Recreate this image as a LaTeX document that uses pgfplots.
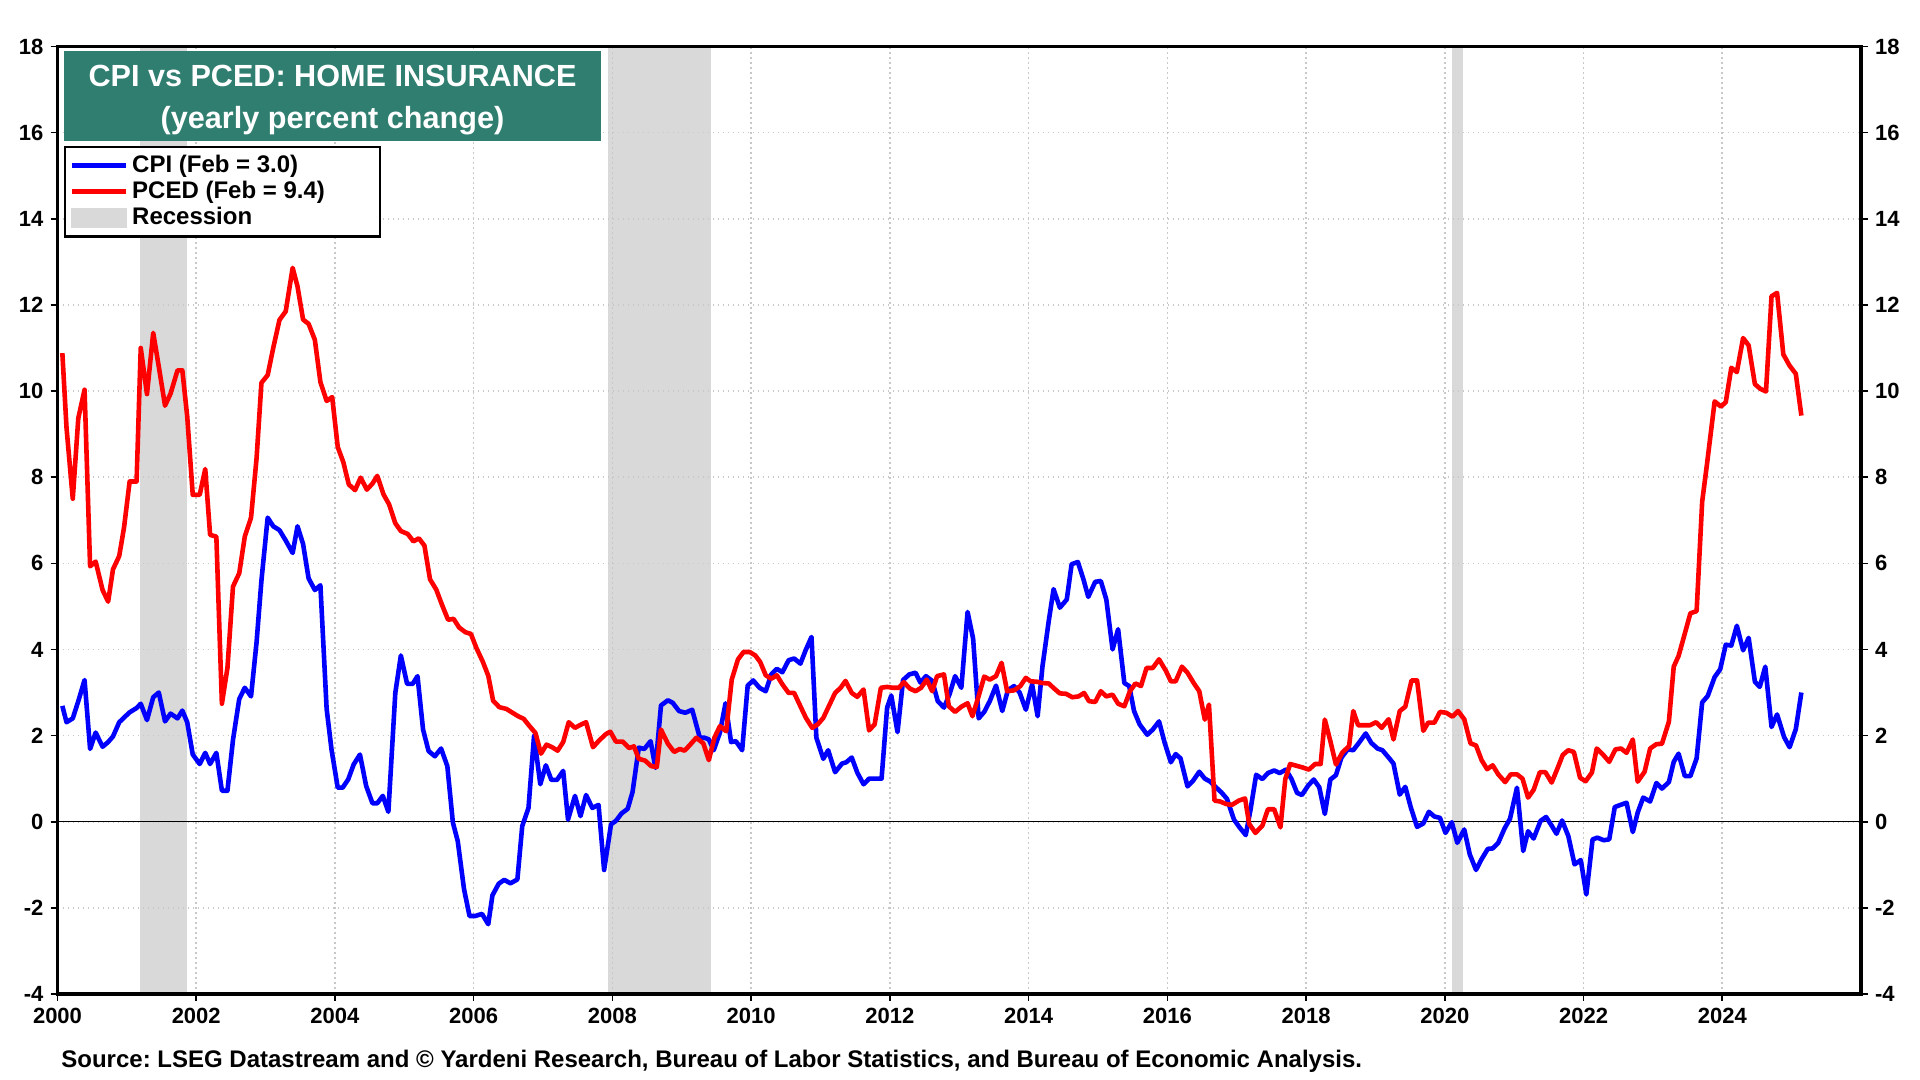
\documentclass[border=0pt]{standalone}
\usepackage{fontspec}
\setmainfont{Liberation Sans}
\usepackage{pgfplots}
\pgfplotsset{compat=1.18}
\definecolor{recgray}{RGB}{217,217,217}
\definecolor{titlegreen}{RGB}{47,126,112}
\definecolor{gridgray}{RGB}{200,200,200}
\frenchspacing
\begin{document}
\begin{tikzpicture}
\useasboundingbox (0,0) rectangle (960pt,540pt);
\pgfplotsset{
  common/.style={at={(28.75pt,43pt)}, anchor=south west, scale only axis,
    width=901.75pt, height=473.75pt, xmin=2000, xmax=2026, ymin=-4, ymax=18}
}
% recession bars
\begin{axis}[common, hide axis]
\addplot[fill=recgray, draw=none] coordinates {(2001.19,-4) (2001.19,18) (2001.86,18) (2001.86,-4)} -- cycle;
\addplot[fill=recgray, draw=none] coordinates {(2007.93,-4) (2007.93,18) (2009.42,18) (2009.42,-4)} -- cycle;
\addplot[fill=recgray, draw=none] coordinates {(2020.10,-4) (2020.10,18) (2020.26,18) (2020.26,-4)} -- cycle;
\end{axis}
% main axis
\begin{axis}[common,
  xtick={2000,2002,...,2024}, ytick={-4,-2,...,18},
  xtick pos=bottom, ytick pos=left,
  grid=major, grid style={gridgray, line width=0.8pt, dash pattern=on 0.8pt off 1.7pt},
  tick align=outside, major tick length=3.5pt,
  tick style={black, line width=0.8pt},
  axis line style={line width=1.6pt},
  /pgf/number format/assume math mode=true,
  /pgf/number format/1000 sep={},
  ticklabel style={font=\fontsize{11}{13}\selectfont\bfseries},
  legend cell align=left,
  legend style={at={(rel axis cs:0,1)}, anchor=north west, xshift=3.25pt, yshift=-49.75pt,
    draw=black, line width=1.2pt, font=\fontsize{12}{13.8}\selectfont\bfseries,
    inner xsep=2pt, inner ysep=2.2pt, row sep=-1.2pt},
]
\addplot[black, line width=0.5pt, forget plot] coordinates {(2000,0) (2026,0)};
\addplot[blue, line width=2.3pt, line join=round,
  legend image code/.code={\draw[blue, line width=2.5pt] (0pt,0pt) -- (27pt,0pt);}]
coordinates {
(2000.07,2.69) (2000.13,2.31) (2000.22,2.4) (2000.30,2.8) (2000.39,3.29) (2000.47,1.69)
(2000.55,2.07) (2000.65,1.74) (2000.73,1.85) (2000.80,1.98) (2000.89,2.31) (2000.96,2.42)
(2001.04,2.54) (2001.14,2.64) (2001.20,2.74) (2001.29,2.36) (2001.38,2.89) (2001.46,3.0)
(2001.55,2.33) (2001.63,2.51) (2001.73,2.4) (2001.80,2.58) (2001.87,2.31) (2001.95,1.56)
(2002.05,1.34) (2002.13,1.6) (2002.20,1.34) (2002.29,1.6) (2002.37,0.72) (2002.45,0.72)
(2002.53,1.9) (2002.62,2.85) (2002.70,3.11) (2002.79,2.91) (2002.87,4.17) (2002.94,5.6)
(2003.03,7.06) (2003.11,6.86) (2003.20,6.77) (2003.29,6.53) (2003.39,6.24) (2003.46,6.86)
(2003.54,6.45) (2003.62,5.65) (2003.71,5.38) (2003.79,5.49) (2003.88,2.62) (2003.95,1.68)
(2004.04,0.79) (2004.11,0.79) (2004.19,0.98) (2004.27,1.33) (2004.36,1.56) (2004.45,0.83)
(2004.54,0.43) (2004.61,0.43) (2004.69,0.6) (2004.77,0.23) (2004.87,2.99) (2004.95,3.86)
(2005.04,3.2) (2005.12,3.2) (2005.19,3.38) (2005.27,2.14) (2005.35,1.64) (2005.44,1.52)
(2005.53,1.7) (2005.62,1.29) (2005.70,-0.02) (2005.77,-0.45) (2005.86,-1.56) (2005.94,-2.19)
(2006.02,-2.19) (2006.12,-2.14) (2006.21,-2.38) (2006.27,-1.71) (2006.36,-1.44) (2006.44,-1.35)
(2006.53,-1.43) (2006.63,-1.34) (2006.70,-0.1) (2006.79,0.32) (2006.87,1.99) (2006.96,0.87)
(2007.04,1.31) (2007.12,0.97) (2007.20,0.97) (2007.29,1.18) (2007.36,0.05) (2007.46,0.6)
(2007.54,0.13) (2007.62,0.62) (2007.71,0.32) (2007.80,0.39) (2007.88,-1.12) (2007.98,-0.06)
(2008.05,0.02) (2008.13,0.19) (2008.22,0.3) (2008.29,0.69) (2008.38,1.72) (2008.46,1.69)
(2008.55,1.87) (2008.62,1.25) (2008.70,2.7) (2008.80,2.82) (2008.87,2.76) (2008.96,2.57)
(2009.05,2.53) (2009.15,2.6) (2009.26,1.95) (2009.33,1.95) (2009.39,1.91) (2009.46,1.66)
(2009.55,2.07) (2009.63,2.75) (2009.71,1.85) (2009.78,1.87) (2009.87,1.66) (2009.95,3.16)
(2010.03,3.28) (2010.12,3.11) (2010.21,3.03) (2010.29,3.42) (2010.37,3.55) (2010.45,3.47)
(2010.54,3.75) (2010.62,3.79) (2010.71,3.67) (2010.79,4.0) (2010.87,4.29) (2010.94,1.95)
(2011.04,1.46) (2011.11,1.66) (2011.21,1.15) (2011.31,1.35) (2011.37,1.38) (2011.45,1.49)
(2011.53,1.14) (2011.62,0.87) (2011.70,1.0) (2011.78,1.0) (2011.88,1.0) (2011.96,2.65)
(2012.02,2.93) (2012.11,2.08) (2012.19,3.29) (2012.28,3.42) (2012.37,3.46) (2012.44,3.23)
(2012.52,3.38) (2012.61,3.27) (2012.69,2.8) (2012.78,2.65) (2012.86,2.96) (2012.94,3.38)
(2013.03,3.11) (2013.12,4.87) (2013.20,4.25) (2013.28,2.4) (2013.36,2.55) (2013.44,2.8)
(2013.53,3.16) (2013.62,2.57) (2013.70,3.05) (2013.79,3.15) (2013.87,3.0) (2013.96,2.6)
(2014.05,3.19) (2014.13,2.45) (2014.20,3.61) (2014.29,4.66) (2014.36,5.4) (2014.45,4.97)
(2014.55,5.16) (2014.62,5.98) (2014.71,6.03) (2014.79,5.63) (2014.86,5.22) (2014.96,5.57)
(2015.04,5.59) (2015.12,5.16) (2015.21,4.0) (2015.29,4.47) (2015.38,3.22) (2015.45,3.15)
(2015.52,2.57) (2015.60,2.26) (2015.71,2.02) (2015.79,2.14) (2015.88,2.33) (2015.96,1.84)
(2016.05,1.38) (2016.12,1.57) (2016.19,1.47) (2016.29,0.82) (2016.37,0.95) (2016.46,1.16)
(2016.54,1.0) (2016.62,0.93) (2016.70,0.8) (2016.78,0.68) (2016.86,0.53) (2016.96,0.05)
(2017.04,-0.13) (2017.13,-0.31) (2017.20,0.29) (2017.28,1.09) (2017.37,0.99) (2017.45,1.13)
(2017.54,1.19) (2017.62,1.13) (2017.71,1.21) (2017.79,0.99) (2017.87,0.67) (2017.94,0.62)
(2018.03,0.84) (2018.11,0.98) (2018.19,0.8) (2018.27,0.18) (2018.35,0.98) (2018.43,1.08)
(2018.51,1.49) (2018.60,1.68) (2018.68,1.66) (2018.77,1.85) (2018.86,2.05) (2018.94,1.83)
(2019.03,1.7) (2019.10,1.66) (2019.19,1.49) (2019.26,1.35) (2019.35,0.63) (2019.43,0.81)
(2019.51,0.33) (2019.60,-0.12) (2019.69,-0.04) (2019.77,0.23) (2019.85,0.12) (2019.93,0.09)
(2020.01,-0.26) (2020.10,-0.01) (2020.18,-0.49) (2020.28,-0.18) (2020.36,-0.76) (2020.45,-1.12)
(2020.53,-0.87) (2020.62,-0.63) (2020.69,-0.62) (2020.77,-0.49) (2020.86,-0.16) (2020.94,0.07)
(2021.04,0.79) (2021.13,-0.68) (2021.20,-0.22) (2021.28,-0.39) (2021.38,0.02) (2021.46,0.11)
(2021.54,-0.09) (2021.61,-0.28) (2021.69,0.03) (2021.78,-0.33) (2021.87,-0.99) (2021.96,-0.89)
(2022.04,-1.69) (2022.13,-0.41) (2022.20,-0.37) (2022.29,-0.43) (2022.37,-0.41) (2022.45,0.34)
(2022.53,0.39) (2022.62,0.44) (2022.71,-0.24) (2022.78,0.21) (2022.86,0.56) (2022.96,0.47)
(2023.05,0.9) (2023.13,0.77) (2023.23,0.92) (2023.30,1.39) (2023.37,1.58) (2023.46,1.06)
(2023.54,1.06) (2023.63,1.47) (2023.71,2.77) (2023.79,2.92) (2023.89,3.36) (2023.97,3.54)
(2024.05,4.11) (2024.13,4.09) (2024.21,4.55) (2024.30,3.98) (2024.38,4.27) (2024.47,3.25)
(2024.54,3.13) (2024.62,3.6) (2024.71,2.2) (2024.79,2.49) (2024.89,1.97) (2024.97,1.73)
(2025.06,2.15) (2025.14,3.0)
};
\addlegendentry{\makebox[120pt][l]{CPI (Feb = 3.0)}}
\addplot[red, line width=2.3pt, line join=round,
  legend image code/.code={\draw[red, line width=2.5pt] (0pt,0pt) -- (27pt,0pt);}]
coordinates {
(2000.07,10.88) (2000.13,9.15) (2000.22,7.5) (2000.30,9.37) (2000.39,10.03) (2000.47,5.93)
(2000.55,6.04) (2000.65,5.38) (2000.73,5.11) (2000.80,5.86) (2000.89,6.17) (2000.96,6.84)
(2001.04,7.9) (2001.14,7.9) (2001.20,11.0) (2001.29,9.93) (2001.38,11.35) (2001.46,10.57)
(2001.55,9.66) (2001.63,9.94) (2001.73,10.48) (2001.80,10.48) (2001.87,9.41) (2001.95,7.59)
(2002.05,7.59) (2002.13,8.19) (2002.20,6.66) (2002.29,6.62) (2002.37,2.74) (2002.45,3.57)
(2002.53,5.46) (2002.62,5.77) (2002.70,6.62) (2002.79,7.06) (2002.87,8.44) (2002.94,10.19)
(2003.03,10.37) (2003.11,11.0) (2003.20,11.65) (2003.29,11.85) (2003.39,12.86) (2003.46,12.43)
(2003.54,11.66) (2003.62,11.56) (2003.71,11.19) (2003.79,10.21) (2003.88,9.77) (2003.96,9.86)
(2004.04,8.7) (2004.12,8.35) (2004.20,7.83) (2004.29,7.7) (2004.37,7.99) (2004.46,7.71)
(2004.54,7.85) (2004.61,8.03) (2004.70,7.6) (2004.78,7.37) (2004.87,6.93) (2004.95,6.75)
(2005.05,6.68) (2005.13,6.51) (2005.21,6.58) (2005.29,6.41) (2005.37,5.63) (2005.46,5.39)
(2005.54,5.05) (2005.63,4.69) (2005.71,4.71) (2005.79,4.51) (2005.88,4.4) (2005.96,4.36)
(2006.04,4.03) (2006.13,3.72) (2006.21,3.39) (2006.28,2.81) (2006.37,2.66) (2006.47,2.62)
(2006.55,2.54) (2006.64,2.45) (2006.72,2.39) (2006.80,2.23) (2006.89,2.06) (2006.97,1.58)
(2007.05,1.79) (2007.13,1.73) (2007.21,1.65) (2007.29,1.85) (2007.37,2.31) (2007.46,2.18)
(2007.54,2.25) (2007.62,2.31) (2007.72,1.73) (2007.81,1.89) (2007.91,2.04) (2007.97,2.09)
(2008.05,1.86) (2008.15,1.86) (2008.24,1.71) (2008.31,1.75) (2008.38,1.46) (2008.47,1.42)
(2008.56,1.29) (2008.64,1.27) (2008.70,2.14) (2008.80,1.81) (2008.89,1.62) (2008.97,1.69)
(2009.04,1.65) (2009.11,1.77) (2009.21,1.95) (2009.31,1.82) (2009.39,1.43) (2009.47,1.95)
(2009.55,2.22) (2009.64,2.1) (2009.72,3.3) (2009.81,3.77) (2009.89,3.94) (2009.98,3.94)
(2010.06,3.86) (2010.13,3.71) (2010.21,3.4) (2010.29,3.32) (2010.37,3.4) (2010.45,3.19)
(2010.54,2.99) (2010.62,2.99) (2010.71,2.68) (2010.79,2.41) (2010.88,2.18) (2010.96,2.26)
(2011.04,2.41) (2011.11,2.65) (2011.21,2.99) (2011.29,3.11) (2011.36,3.27) (2011.45,2.99)
(2011.53,2.9) (2011.62,3.07) (2011.70,2.12) (2011.78,2.26) (2011.87,3.11) (2011.96,3.13)
(2012.04,3.11) (2012.13,3.11) (2012.20,3.24) (2012.29,3.09) (2012.37,3.03) (2012.45,3.11)
(2012.53,3.3) (2012.61,3.03) (2012.68,3.38) (2012.78,3.42) (2012.85,2.68) (2012.94,2.55)
(2013.03,2.67) (2013.12,2.75) (2013.19,2.45) (2013.28,2.92) (2013.36,3.37) (2013.44,3.3)
(2013.53,3.38) (2013.61,3.69) (2013.69,3.03) (2013.79,3.05) (2013.88,3.15) (2013.96,3.34)
(2014.03,3.26) (2014.12,3.25) (2014.20,3.22) (2014.29,3.21) (2014.37,3.09) (2014.45,2.98)
(2014.54,2.97) (2014.63,2.89) (2014.72,2.91) (2014.80,2.99) (2014.87,2.8) (2014.96,2.78)
(2015.04,3.03) (2015.12,2.91) (2015.21,2.95) (2015.29,2.74) (2015.38,2.68) (2015.46,3.03)
(2015.54,3.21) (2015.62,3.15) (2015.70,3.57) (2015.79,3.57) (2015.88,3.77) (2015.98,3.5)
(2016.05,3.26) (2016.12,3.26) (2016.21,3.6) (2016.29,3.46) (2016.38,3.22) (2016.46,3.03)
(2016.54,2.37) (2016.60,2.72) (2016.68,0.49) (2016.76,0.47) (2016.85,0.41) (2016.93,0.39)
(2017.03,0.49) (2017.12,0.54) (2017.18,-0.05) (2017.27,-0.26) (2017.37,-0.09) (2017.45,0.29)
(2017.54,0.29) (2017.63,-0.13) (2017.70,0.99) (2017.77,1.34) (2017.86,1.3) (2017.95,1.26)
(2018.04,1.21) (2018.13,1.34) (2018.21,1.34) (2018.27,2.37) (2018.35,1.87) (2018.43,1.33)
(2018.52,1.6) (2018.62,1.76) (2018.68,2.57) (2018.75,2.24) (2018.84,2.24) (2018.92,2.24)
(2019.01,2.31) (2019.09,2.18) (2019.19,2.38) (2019.26,1.91) (2019.35,2.57) (2019.43,2.67)
(2019.52,3.28) (2019.60,3.28) (2019.69,2.11) (2019.76,2.3) (2019.85,2.3) (2019.93,2.55)
(2020.02,2.53) (2020.11,2.44) (2020.19,2.57) (2020.28,2.38) (2020.37,1.82) (2020.45,1.77)
(2020.53,1.43) (2020.61,1.22) (2020.69,1.31) (2020.77,1.1) (2020.87,0.92) (2020.95,1.1)
(2021.04,1.1) (2021.12,1.0) (2021.20,0.56) (2021.28,0.74) (2021.37,1.15) (2021.45,1.15)
(2021.54,0.91) (2021.62,1.22) (2021.70,1.55) (2021.78,1.66) (2021.86,1.62) (2021.95,1.02)
(2022.03,0.94) (2022.12,1.14) (2022.19,1.7) (2022.28,1.56) (2022.37,1.39) (2022.46,1.68)
(2022.54,1.7) (2022.62,1.6) (2022.71,1.91) (2022.78,0.93) (2022.88,1.16) (2022.96,1.7)
(2023.05,1.8) (2023.13,1.81) (2023.23,2.32) (2023.30,3.6) (2023.37,3.85) (2023.46,4.37)
(2023.54,4.84) (2023.63,4.89) (2023.71,7.43) (2023.78,8.31) (2023.89,9.76) (2023.98,9.64)
(2024.05,9.74) (2024.13,10.54) (2024.21,10.44) (2024.30,11.23) (2024.38,11.06) (2024.47,10.16)
(2024.55,10.05) (2024.63,9.99) (2024.71,12.2) (2024.79,12.28) (2024.88,10.85) (2024.97,10.59)
(2025.06,10.4) (2025.14,9.43)
};
\addlegendentry{PCED (Feb = 9.4)}
\addlegendimage{legend image code/.code={\fill[recgray] (0pt,-4.5pt) rectangle (27pt,4.5pt);}}
\addlegendentry{Recession}
\fill[titlegreen] (rel axis cs:0,1) ++(3.25pt,-2.25pt) rectangle ++(268.5pt,-45pt);
\node[anchor=center, inner sep=0pt, text=white, align=center,
  font=\fontsize{15.3}{21}\selectfont\bfseries] at (rel axis cs:0,1) [xshift=137.5pt, yshift=-26.6pt]
  {CPI vs PCED: HOME INSURANCE\\(yearly percent change)};
\end{axis}
% right-hand labels
\begin{axis}[common,
  xtick=\empty, ytick={-4,-2,...,18}, ytick pos=right, yticklabel pos=right,
  tick align=outside, major tick length=3.5pt,
  tick style={black, line width=0.8pt},
  axis line style={line width=1.6pt},
  /pgf/number format/assume math mode=true,
  ticklabel style={font=\fontsize{11}{13}\selectfont\bfseries},
]
\end{axis}
\node[anchor=west, inner sep=0pt, font=\fontsize{12}{14}\selectfont\bfseries] at (30.5pt,9.3pt)
  {Source: LSEG Datastream and © Yardeni Research, Bureau of Labor Statistics, and Bureau of Economic Analysis.};
\end{tikzpicture}
\end{document}
